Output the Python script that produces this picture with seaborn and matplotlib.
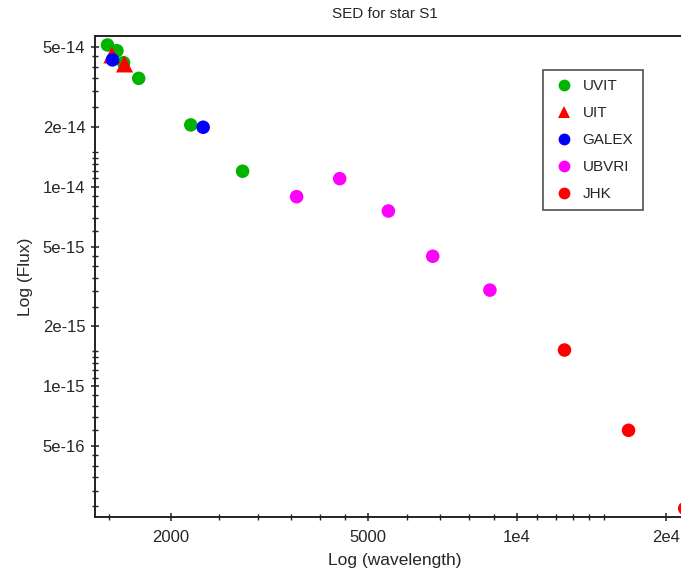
import matplotlib
matplotlib.use("Agg")
import matplotlib.pyplot as plt
import seaborn as sns
import pandas as pd
from matplotlib.ticker import FixedLocator, FixedFormatter, NullFormatter

# ---- data ----
uvit_wl = [1491, 1558, 1607, 1724, 2196, 2794]
uvit_flux = [5.13e-14, 4.80e-14, 4.18e-14, 3.49e-14, 2.04e-14, 1.195e-14]
uit_wl = [1522, 1614]
uit_flux = [4.57e-14, 4.12e-14]
galex_wl = [1526, 2326]
galex_flux = [4.32e-14, 1.985e-14]
ubvri_wl = [3592, 4388, 5502, 6762, 8820]
ubvri_flux = [8.91e-15, 1.097e-14, 7.55e-15, 4.48e-15, 3.03e-15]
jhk_wl = [12474, 16800, 21810]
jhk_flux = [1.518e-15, 6.01e-16, 2.44e-16]

bands = ["UVIT", "UIT", "GALEX", "UBVRI", "JHK"]
xticks = [2000, 5000, 1e4, 2e4]
xtick_labels = ["2000", "5000", "1e4", "2e4"]
yticks = [5e-16, 1e-15, 2e-15, 5e-15, 1e-14, 2e-14, 5e-14]
ytick_labels = ["5e-16", "1e-15", "2e-15", "5e-15", "1e-14", "2e-14", "5e-14"]

rows = []
for name, wl, fl in [("UVIT", uvit_wl, uvit_flux), ("UIT", uit_wl, uit_flux),
                     ("GALEX", galex_wl, galex_flux), ("UBVRI", ubvri_wl, ubvri_flux),
                     ("JHK", jhk_wl, jhk_flux)]:
    for w, f in zip(wl, fl):
        rows.append({"wl": w, "flux": f, "band": name})
df = pd.DataFrame(rows)

palette = {"UVIT": "#00b400", "UIT": "#ff0000", "GALEX": "#0000ff",
           "UBVRI": "#ff00ff", "JHK": "#ff0000"}
markers = {"UVIT": "o", "UIT": "^", "GALEX": "o", "UBVRI": "o", "JHK": "o"}
sizes = {"UVIT": 95, "UIT": 150, "GALEX": 95, "UBVRI": 95, "JHK": 95}

sns.set_style("ticks")
plt.rcParams["font.family"] = ["Liberation Sans", "DejaVu Sans"]

fig = plt.figure(figsize=(6.81, 5.70), dpi=100)
ax = fig.add_axes([95/681, 53/570, 600/681, 481/570])

sns.scatterplot(data=df, x="wl", y="flux", hue="band", style="band", size="band",
                hue_order=bands, style_order=bands, size_order=bands,
                palette=palette, markers=markers, sizes=sizes,
                linewidth=0, ax=ax, legend=True)

ax.set_xscale("log")
ax.set_yscale("log")
ax.set_xlim(1407, 22880)
ax.set_ylim(2.21e-16, 5.69e-14)

minor_x = [1100, 1200, 1300, 1400, 1500, 2500, 3000, 3500, 4000, 4500,
           6000, 7000, 8000, 9000, 11000, 12000, 13000, 14000, 15000]
minor_y = [f * 1e-16 for f in [2.5, 3, 3.5, 4, 4.5, 6, 7, 8, 9]] + \
          [f * 1e-15 for f in [1.1, 1.2, 1.3, 1.4, 1.5, 2.5, 3, 3.5, 4, 4.5, 6, 7, 8, 9]] + \
          [f * 1e-14 for f in [1.1, 1.2, 1.3, 1.4, 1.5, 2.5, 3, 3.5, 4, 4.5]]
ax.xaxis.set_major_locator(FixedLocator(xticks))
ax.xaxis.set_major_formatter(FixedFormatter(xtick_labels))
ax.xaxis.set_minor_locator(FixedLocator(minor_x))
ax.xaxis.set_minor_formatter(NullFormatter())
ax.yaxis.set_major_locator(FixedLocator(yticks))
ax.yaxis.set_major_formatter(FixedFormatter(ytick_labels))
ax.yaxis.set_minor_locator(FixedLocator(minor_y))
ax.yaxis.set_minor_formatter(NullFormatter())

ax.tick_params(which="major", direction="inout", length=6, width=1.1,
               color="#222222", labelsize=12, pad=4)
ax.tick_params(which="minor", direction="inout", length=4, width=1.0, color="#222222")
ax.tick_params(axis="x", which="major", pad=6)
ax.tick_params(axis="x", which="both", top=False)
ax.tick_params(axis="y", which="both", right=False)

for s in ["left", "bottom", "top"]:
    ax.spines[s].set_color("#222222")
    ax.spines[s].set_linewidth(1.4)
ax.spines["right"].set_visible(False)

ax.set_xlabel("Log (wavelength)", fontsize=12.5, labelpad=6)
ax.set_ylabel("Log (Flux)", fontsize=12.5, labelpad=7)
fig.text(385/681, 1 - 14/570, "SED for star S1", ha="center", va="center", fontsize=11)

leg = ax.legend(loc="upper left", bbox_to_anchor=(543/681, 1 - 70/570),
                bbox_transform=fig.transFigure, title=None, frameon=True,
                fancybox=False, edgecolor="#222222", fontsize=11,
                borderpad=0.6, borderaxespad=0, labelspacing=0.85,
                handletextpad=0.5, handlelength=1.5)
leg.get_frame().set_linewidth(1.2)
for h in leg.legend_handles:
    if hasattr(h, "set_markersize"):
        h.set_markersize(8.5)
    elif hasattr(h, "set_sizes"):
        h.set_sizes([72])

fig.savefig("out.png", dpi=100)
